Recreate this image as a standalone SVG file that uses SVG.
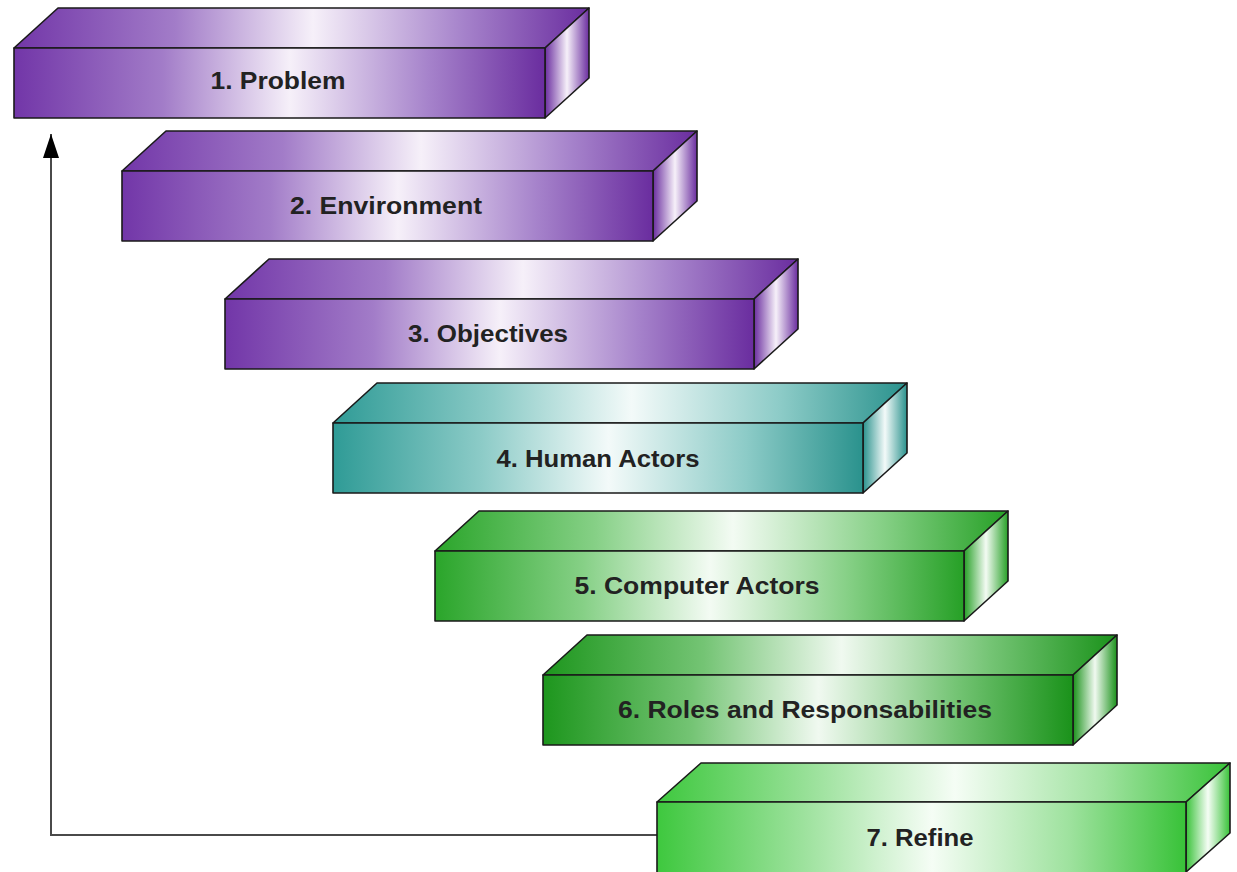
<svg xmlns="http://www.w3.org/2000/svg" width="1237" height="872" viewBox="0 0 1237 872">
<style>
.f{stroke:#1a1a1a;stroke-width:1.6;stroke-linejoin:round}
.t{font-family:"Liberation Sans",Arial,sans-serif;font-weight:bold;font-size:23px;fill:#222;text-anchor:middle}
.c{fill:none;stroke:#4a4a4a;stroke-width:2}
</style>
<defs>
<linearGradient id="pF" x1="0" y1="0" x2="1" y2="0"><stop offset="0" stop-color="#7236a8"/><stop offset="0.28" stop-color="#a27cc8"/><stop offset="0.52" stop-color="#f6f0f9"/><stop offset="0.78" stop-color="#a683cb"/><stop offset="1" stop-color="#6a2d9f"/></linearGradient>
<linearGradient id="pS" x1="0" y1="0" x2="1" y2="0"><stop offset="0" stop-color="#6a2d9f"/><stop offset="0.5" stop-color="#f6f0f9"/><stop offset="1" stop-color="#6a2d9f"/></linearGradient>
<linearGradient id="tF" x1="0" y1="0" x2="1" y2="0"><stop offset="0" stop-color="#2f9b96"/><stop offset="0.28" stop-color="#8ccbc7"/><stop offset="0.52" stop-color="#f3faf9"/><stop offset="0.78" stop-color="#8ccbc7"/><stop offset="1" stop-color="#2a928d"/></linearGradient>
<linearGradient id="tS" x1="0" y1="0" x2="1" y2="0"><stop offset="0" stop-color="#2a928d"/><stop offset="0.5" stop-color="#f3faf9"/><stop offset="1" stop-color="#2a928d"/></linearGradient>
<linearGradient id="gF" x1="0" y1="0" x2="1" y2="0"><stop offset="0" stop-color="#2aa52a"/><stop offset="0.28" stop-color="#86d086"/><stop offset="0.52" stop-color="#f3fbf3"/><stop offset="0.78" stop-color="#86d086"/><stop offset="1" stop-color="#26a026"/></linearGradient>
<linearGradient id="gS" x1="0" y1="0" x2="1" y2="0"><stop offset="0" stop-color="#26a026"/><stop offset="0.5" stop-color="#f3fbf3"/><stop offset="1" stop-color="#26a026"/></linearGradient>
<linearGradient id="dF" x1="0" y1="0" x2="1" y2="0"><stop offset="0" stop-color="#1d961d"/><stop offset="0.28" stop-color="#74c474"/><stop offset="0.52" stop-color="#f0f9f0"/><stop offset="0.78" stop-color="#74c474"/><stop offset="1" stop-color="#1a921a"/></linearGradient>
<linearGradient id="dS" x1="0" y1="0" x2="1" y2="0"><stop offset="0" stop-color="#1a921a"/><stop offset="0.5" stop-color="#f0f9f0"/><stop offset="1" stop-color="#1a921a"/></linearGradient>
<linearGradient id="lF" x1="0" y1="0" x2="1" y2="0"><stop offset="0" stop-color="#3ec83e"/><stop offset="0.28" stop-color="#9ee29e"/><stop offset="0.52" stop-color="#f5fdf5"/><stop offset="0.78" stop-color="#9ee29e"/><stop offset="1" stop-color="#38c238"/></linearGradient>
<linearGradient id="lS" x1="0" y1="0" x2="1" y2="0"><stop offset="0" stop-color="#38c238"/><stop offset="0.5" stop-color="#f5fdf5"/><stop offset="1" stop-color="#38c238"/></linearGradient>
<marker id="arr" viewBox="0 0 24 16" refX="24" refY="8" markerWidth="24" markerHeight="16" markerUnits="userSpaceOnUse" orient="auto"><path d="M0,0 L24,8 L0,16 z" fill="#000"/></marker>
</defs>
<g id="connectors">
<path class="c" d="M657,835 H51 V134" marker-end="url(#arr)"/>
</g>
<g id="n1">
<polygon class="f" fill="url(#pF)" points="14,48 58,8 589,8 545,48"/>
<polygon class="f" fill="url(#pS)" points="545,48 589,8 589,78 545,118"/>
<rect class="f" fill="url(#pF)" x="14" y="48" width="531" height="70"/>
<text class="t" x="278" y="89" textLength="135" lengthAdjust="spacingAndGlyphs">1. Problem</text>
</g>
<g id="n2">
<polygon class="f" fill="url(#pF)" points="122,171 166,131 697,131 653,171"/>
<polygon class="f" fill="url(#pS)" points="653,171 697,131 697,201 653,241"/>
<rect class="f" fill="url(#pF)" x="122" y="171" width="531" height="70"/>
<text class="t" x="386" y="214" textLength="192" lengthAdjust="spacingAndGlyphs">2. Environment</text>
</g>
<g id="n3">
<polygon class="f" fill="url(#pF)" points="225,299 269,259 798,259 754,299"/>
<polygon class="f" fill="url(#pS)" points="754,299 798,259 798,329 754,369"/>
<rect class="f" fill="url(#pF)" x="225" y="299" width="529" height="70"/>
<text class="t" x="488" y="342" textLength="160" lengthAdjust="spacingAndGlyphs">3. Objectives</text>
</g>
<g id="n4">
<polygon class="f" fill="url(#tF)" points="333,423 377,383 907,383 863,423"/>
<polygon class="f" fill="url(#tS)" points="863,423 907,383 907,453 863,493"/>
<rect class="f" fill="url(#tF)" x="333" y="423" width="530" height="70"/>
<text class="t" x="598" y="467" textLength="203" lengthAdjust="spacingAndGlyphs">4. Human Actors</text>
</g>
<g id="n5">
<polygon class="f" fill="url(#gF)" points="435,551 479,511 1008,511 964,551"/>
<polygon class="f" fill="url(#gS)" points="964,551 1008,511 1008,581 964,621"/>
<rect class="f" fill="url(#gF)" x="435" y="551" width="529" height="70"/>
<text class="t" x="697" y="594" textLength="245" lengthAdjust="spacingAndGlyphs">5. Computer Actors</text>
</g>
<g id="n6">
<polygon class="f" fill="url(#dF)" points="543,675 587,635 1117,635 1073,675"/>
<polygon class="f" fill="url(#dS)" points="1073,675 1117,635 1117,705 1073,745"/>
<rect class="f" fill="url(#dF)" x="543" y="675" width="530" height="70"/>
<text class="t" x="805" y="718" textLength="374" lengthAdjust="spacingAndGlyphs">6. Roles and Responsabilities</text>
</g>
<g id="n7">
<polygon class="f" fill="url(#lF)" points="657,802 701,763 1230,763 1186,802"/>
<polygon class="f" fill="url(#lS)" points="1186,802 1230,763 1230,833 1186,872"/>
<rect class="f" fill="url(#lF)" x="657" y="802" width="529" height="72"/>
<text class="t" x="920" y="846" textLength="107" lengthAdjust="spacingAndGlyphs">7. Refine</text>
</g>
</svg>
